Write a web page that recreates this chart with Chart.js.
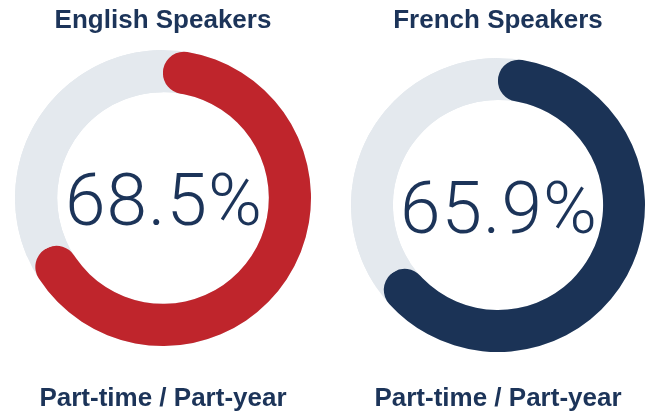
<!DOCTYPE html>
<html lang="en">
<head>
  <meta charset="UTF-8" />
  <title>Part-time / Part-year</title>
  <script src="https://cdn.jsdelivr.net/npm/chart.js"></script>
  <style>
    html, body { margin: 0; padding: 0; background: #fff; }
    .wrap { position: relative; width: 646px; height: 414px; }
    .box { position: absolute; top: 0; width: 323px; height: 414px; }
  </style>
</head>
<body>
  <div class="wrap">
    <div class="box" style="left:0"><canvas id="chartEn"></canvas></div>
    <div class="box" style="left:323px"><canvas id="chartFr"></canvas></div>
  </div>

  <script>
    // values
    const groups = ["English Speakers", "French Speakers"];
    const shares = [68.5, 65.9];
    const subLabel = "Part-time / Part-year";
    const segLabels = ["Part-time / Part-year", "Other"];

    const navy = "#1c3459";
    const track = "#e4e9ee";
    const arcColors = ["#bf252c", "#1b3356"];

    // grey ring behind the arc, so the rounded caps sit on the track
    const trackRing = {
      id: "trackRing",
      beforeDatasetsDraw(chart) {
        const arc = chart.getDatasetMeta(0).data[0];
        if (!arc) return;
        const ctx = chart.ctx;
        ctx.save();
        ctx.beginPath();
        ctx.arc(arc.x, arc.y, arc.outerRadius, 0, Math.PI * 2);
        ctx.arc(arc.x, arc.y, arc.innerRadius, Math.PI * 2, 0, true);
        ctx.fillStyle = track;
        ctx.fill();
        ctx.restore();
      }
    };

    // big percentage in the middle
    const centerText = {
      id: "centerText",
      afterDatasetsDraw(chart, args, opts) {
        const arc = chart.getDatasetMeta(0).data[0];
        if (!arc) return;
        const ctx = chart.ctx;
        ctx.save();
        ctx.font = "300 73px Roboto, 'Liberation Sans', sans-serif";
        if ("letterSpacing" in ctx) ctx.letterSpacing = "1px";
        ctx.fillStyle = navy;
        ctx.textAlign = "center";
        ctx.textBaseline = "alphabetic";
        ctx.fillText(opts.text, arc.x + 1, arc.y + opts.dy);
        ctx.restore();
      }
    };

    function makeChart(id, i, pad, titlePad, subPad, dy) {
      const v = shares[i];
      new Chart(document.getElementById(id), {
        type: "doughnut",
        data: {
          labels: segLabels,
          datasets: [{
            data: [v, +(100 - v).toFixed(1)],
            backgroundColor: [arcColors[i], track],
            borderWidth: 0,
            borderRadius: [21, 0]
          }]
        },
        options: {
          responsive: true,
          maintainAspectRatio: false,
          animation: false,
          cutout: "71.5%",
          layout: { padding: pad },
          plugins: {
            legend: { display: false },
            tooltip: { enabled: false },
            title: {
              display: true,
              text: groups[i],
              color: navy,
              font: { family: "'Liberation Sans', Arial, sans-serif", size: 26, weight: "bold" },
              padding: titlePad
            },
            subtitle: {
              display: true,
              position: "bottom",
              text: subLabel,
              color: navy,
              font: { family: "'Liberation Sans', Arial, sans-serif", size: 26, weight: "bold" },
              padding: subPad
            },
            centerText: { text: v.toFixed(1) + "%", dy: dy }
          }
        },
        plugins: [trackRing, centerText]
      });
    }

    makeChart("chartEn", 0, { left: 15, right: 12, top: 0, bottom: 0 },
      { top: 5, bottom: 13.8 }, { top: 36.8, bottom: 0 }, 27);
    makeChart("chartFr", 1, { left: 28, right: 1, top: 0, bottom: 0 },
      { top: 5, bottom: 21.8 }, { top: 30.8, bottom: 0 }, 28);
  </script>
</body>
</html>
